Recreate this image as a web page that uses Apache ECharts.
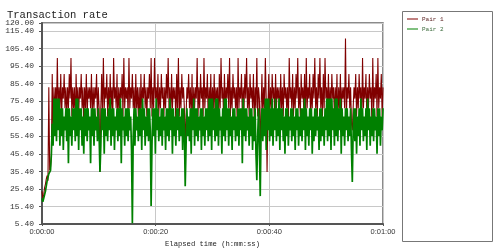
<!DOCTYPE html>
<html>
<head>
<meta charset="utf-8">
<script src="https://cdn.jsdelivr.net/npm/echarts@6/dist/echarts.min.js"></script>
<style>html,body{margin:0;padding:0;background:#fff}#c{width:500px;height:250px}</style>
</head>
<body>
<div id="c"></div>
<script>
const seriesNames = ['Pair 1', 'Pair 2'];
const sampleStep = 0.15; // seconds between samples
const xTicks = [0, 20, 40, 60];
const yTicks = [5.4, 15.4, 25.4, 35.4, 45.4, 55.4, 65.4, 75.4, 85.4, 95.4, 105.4, 115.4, 120];

const pair1 = [
  24, 20, 22, 26, 28, 31, 33, 30, 83.3, 36, 38, 45, 90.9, 55.6, 83.3, 66.7, 83.3, 71.4, 100, 66.7,
  83.3, 71.4, 90.9, 66.7, 83.3, 76.9, 90.9, 71.4, 83.3, 66.7, 83.3, 71.4, 90.9, 76.9, 100, 66.7, 83.3, 71.4, 83.3, 62.5,
  90.9, 71.4, 83.3, 66.7, 83.3, 76.9, 90.9, 71.4, 83.3, 62.5, 83.3, 71.4, 90.9, 66.7, 83.3, 76.9, 83.3, 71.4, 90.9, 66.7,
  83.3, 71.4, 83.3, 76.9, 90.9, 66.7, 83.3, 71.4, 35, 71.4, 90.9, 66.7, 100, 71.4, 83.3, 76.9, 90.9, 66.7, 83.3, 71.4,
  90.9, 71.4, 83.3, 66.7, 100, 76.9, 83.3, 71.4, 90.9, 62.5, 83.3, 71.4, 83.3, 76.9, 90.9, 66.7, 100, 71.4, 83.3, 76.9,
  83.3, 66.7, 100, 71.4, 83.3, 76.9, 90.9, 71.4, 83.3, 62.5, 90.9, 71.4, 83.3, 66.7, 83.3, 58.8, 90.9, 71.4, 83.3, 76.9,
  90.9, 71.4, 83.3, 66.7, 83.3, 76.9, 90.9, 71.4, 100, 66.7, 83.3, 71.4, 100, 76.9, 83.3, 71.4, 90.9, 66.7, 83.3, 71.4,
  90.9, 76.9, 83.3, 66.7, 83.3, 71.4, 90.9, 76.9, 100, 71.4, 83.3, 66.7, 90.9, 71.4, 83.3, 76.9, 83.3, 62.5, 90.9, 71.4,
  100, 66.7, 83.3, 71.4, 90.9, 76.9, 83.3, 71.4, 50, 66.7, 83.3, 76.9, 90.9, 71.4, 83.3, 66.7, 90.9, 62.5, 83.3, 71.4,
  83.3, 76.9, 100, 66.7, 83.3, 71.4, 90.9, 76.9, 83.3, 66.7, 100, 71.4, 83.3, 76.9, 90.9, 62.5, 83.3, 71.4, 90.9, 66.7,
  83.3, 71.4, 90.9, 66.7, 83.3, 76.9, 83.3, 62.5, 90.9, 71.4, 100, 76.9, 83.3, 66.7, 90.9, 71.4, 83.3, 76.9, 90.9, 71.4,
  100, 66.7, 83.3, 71.4, 90.9, 76.9, 83.3, 71.4, 83.3, 62.5, 100, 71.4, 83.3, 76.9, 90.9, 66.7, 83.3, 71.4, 90.9, 76.9,
  100, 71.4, 83.3, 66.7, 90.9, 76.9, 83.3, 71.4, 90.9, 62.5, 83.3, 71.4, 100, 66.7, 83.3, 76.9, 45, 71.4, 90.9, 66.7,
  83.3, 71.4, 100, 76.9, 35, 71.4, 90.9, 66.7, 83.3, 71.4, 90.9, 76.9, 83.3, 66.7, 90.9, 71.4, 83.3, 76.9, 83.3, 62.5,
  90.9, 71.4, 83.3, 66.7, 90.9, 76.9, 83.3, 71.4, 83.3, 62.5, 100, 76.9, 83.3, 71.4, 90.9, 66.7, 83.3, 71.4, 90.9, 76.9,
  100, 71.4, 83.3, 66.7, 90.9, 76.9, 83.3, 71.4, 90.9, 62.5, 100, 71.4, 83.3, 76.9, 90.9, 66.7, 83.3, 71.4, 90.9, 76.9,
  100, 71.4, 83.3, 66.7, 90.9, 76.9, 100, 71.4, 83.3, 66.7, 90.9, 71.4, 100, 76.9, 83.3, 71.4, 90.9, 66.7, 83.3, 71.4,
  90.9, 76.9, 83.3, 66.7, 83.3, 71.4, 90.9, 62.5, 83.3, 71.4, 90.9, 66.7, 83.3, 76.9, 83.3, 71.4, 111.1, 66.7, 83.3, 76.9,
  90.9, 71.4, 83.3, 62.5, 58.8, 71.4, 83.3, 76.9, 90.9, 66.7, 83.3, 71.4, 90.9, 76.9, 83.3, 62.5, 100, 71.4, 83.3, 76.9,
  90.9, 66.7, 83.3, 71.4, 90.9, 76.9, 83.3, 62.5, 100, 71.4, 83.3, 76.9, 90.9, 66.7, 100, 71.4, 83.3, 76.9, 90.9, 66.7,
  83.3
];

const pair2 = [
  20, 18, 17, 22, 24, 27, 30, 32, 34, 33, 36, 45, 62.5, 50, 76.9, 55.6, 76.9, 52.6, 76.9, 58.8,
  76.9, 50, 71.4, 55.6, 71.4, 47.6, 66.7, 58.8, 71.4, 52.6, 71.4, 40, 71.4, 55.6, 66.7, 50, 71.4, 58.8, 71.4, 52.6,
  76.9, 55.6, 76.9, 47.6, 71.4, 58.8, 71.4, 50, 66.7, 45.5, 71.4, 55.6, 71.4, 52.6, 71.4, 58.8, 66.7, 40, 71.4, 55.6,
  71.4, 50, 71.4, 58.8, 66.7, 52.6, 71.4, 55.6, 35, 50, 71.4, 58.8, 71.4, 45.5, 71.4, 55.6, 66.7, 52.6, 71.4, 58.8,
  76.9, 50, 71.4, 55.6, 71.4, 47.6, 66.7, 58.8, 71.4, 52.6, 71.4, 55.6, 76.9, 40, 71.4, 58.8, 66.7, 50, 71.4, 55.6,
  71.4, 52.6, 71.4, 58.8, 66.7, 47.6, 5.9, 55.6, 71.4, 50, 71.4, 58.8, 66.7, 52.6, 71.4, 55.6, 71.4, 47.6, 76.9, 58.8,
  71.4, 50, 66.7, 55.6, 71.4, 52.6, 71.4, 58.8, 15.6, 50, 71.4, 55.6, 71.4, 45.5, 76.9, 58.8, 71.4, 52.6, 66.7, 55.6,
  71.4, 50, 71.4, 58.8, 66.7, 47.6, 71.4, 55.6, 71.4, 52.6, 76.9, 58.8, 71.4, 45.5, 71.4, 55.6, 66.7, 50, 71.4, 58.8,
  71.4, 52.6, 66.7, 55.6, 71.4, 47.6, 71.4, 58.8, 27, 50, 71.4, 55.6, 66.7, 52.6, 71.4, 45.5, 71.4, 58.8, 76.9, 50,
  71.4, 55.6, 71.4, 52.6, 66.7, 58.8, 71.4, 47.6, 71.4, 55.6, 66.7, 50, 71.4, 58.8, 71.4, 52.6, 76.9, 55.6, 76.9, 47.6,
  76.9, 58.8, 71.4, 52.6, 76.9, 55.6, 76.9, 50, 71.4, 58.8, 66.7, 45.5, 71.4, 55.6, 76.9, 52.6, 76.9, 58.8, 71.4, 50,
  71.4, 55.6, 66.7, 47.6, 71.4, 58.8, 71.4, 52.6, 66.7, 55.6, 71.4, 50, 71.4, 58.8, 71.4, 40, 76.9, 55.6, 71.4, 52.6,
  71.4, 58.8, 66.7, 50, 71.4, 55.6, 71.4, 47.6, 66.7, 52.6, 71.4, 45.5, 30.3, 55.6, 71.4, 50, 21.3, 58.8, 71.4, 52.6,
  71.4, 55.6, 76.9, 47.6, 76.9, 58.8, 76.9, 52.6, 71.4, 55.6, 76.9, 50, 71.4, 58.8, 76.9, 52.6, 71.4, 55.6, 76.9, 47.6,
  71.4, 58.8, 71.4, 52.6, 66.7, 45.5, 71.4, 55.6, 71.4, 50, 66.7, 58.8, 71.4, 52.6, 71.4, 55.6, 66.7, 47.6, 71.4, 58.8,
  71.4, 50, 66.7, 55.6, 71.4, 52.6, 71.4, 58.8, 76.9, 47.6, 71.4, 55.6, 66.7, 50, 71.4, 58.8, 71.4, 45.5, 66.7, 52.6,
  71.4, 55.6, 71.4, 58.8, 66.7, 47.6, 71.4, 52.6, 71.4, 55.6, 66.7, 50, 71.4, 58.8, 76.9, 52.6, 76.9, 55.6, 76.9, 47.6,
  76.9, 58.8, 71.4, 50, 76.9, 55.6, 76.9, 52.6, 71.4, 58.8, 76.9, 45.5, 71.4, 55.6, 66.7, 50, 71.4, 58.8, 71.4, 52.6,
  66.7, 55.6, 71.4, 47.6, 29.3, 58.8, 71.4, 52.6, 71.4, 45.5, 66.7, 55.6, 71.4, 50, 76.9, 58.8, 71.4, 52.6, 66.7, 55.6,
  71.4, 47.6, 76.9, 58.8, 71.4, 50, 66.7, 55.6, 71.4, 52.6, 71.4, 58.8, 66.7, 45.5, 71.4, 55.6, 71.4, 50, 66.7, 58.8,
  71.4
];

function toPairs(arr) { return arr.map((v, i) => [+(i * sampleStep).toFixed(2), v]); }
function fmtTime(s) {
  const h = Math.floor(s / 3600), m = Math.floor((s % 3600) / 60), sec = Math.round(s % 60);
  return h + ':' + String(m).padStart(2, '0') + ':' + String(sec).padStart(2, '0');
}

const chart = echarts.init(document.getElementById('c'), null, { renderer: 'canvas' });
const mono = 'Liberation Mono';
chart.setOption({
  animation: false,
  backgroundColor: '#fff',
  title: {
    text: 'Transaction rate', left: 2, top: 5,
    textStyle: { fontFamily: mono, fontSize: 10.5, fontWeight: 'normal', color: '#222' }
  },
  legend: {
    orient: 'vertical', left: 402, top: 11, icon: 'rect',
    itemWidth: 11, itemHeight: 1, itemGap: 4,
    textStyle: { fontFamily: mono, fontSize: 6, padding: [0, 0, 0, -1] },
    data: [
      { name: seriesNames[0], textStyle: { color: '#5a2020' } },
      { name: seriesNames[1], textStyle: { color: '#3a6a3a' } }
    ]
  },
  graphic: [{
    type: 'rect', left: 400, top: 9,
    shape: { width: 90, height: 230 },
    style: { fill: 'none', stroke: '#777', lineWidth: 1 }
  }],
  grid: {
    left: 42, right: 117, top: 23, bottom: 26,
    containLabel: false, outerBoundsMode: 'none',
    show: true, borderColor: '#666', borderWidth: 1.5
  },
  xAxis: {
    type: 'value', min: 0, max: 60, interval: 20,
    name: 'Elapsed time (h:mm:ss)', nameLocation: 'middle', nameGap: 16,
    nameTextStyle: { fontFamily: mono, fontSize: 7.2, color: '#222' },
    axisLine: { show: true, lineStyle: { color: '#555', width: 2 } },
    axisTick: { show: true, length: 2, lineStyle: { color: '#555' } },
    axisLabel: { formatter: fmtTime, fontFamily: 'Liberation Sans', fontSize: 7.5, color: '#333', margin: 4, customValues: xTicks },
    splitLine: { show: true, lineStyle: { color: '#c8c8c8', width: 1 } }
  },
  yAxis: {
    type: 'value', min: 5.4, max: 120, interval: 10,
    name: '#/Second', nameLocation: 'middle', nameGap: 33,
    nameTextStyle: { fontFamily: mono, fontSize: 6, color: '#222' },
    axisLine: { show: true, lineStyle: { color: '#555', width: 2 } },
    axisTick: { show: true, length: 3, lineStyle: { color: '#555' }, customValues: yTicks },
    axisLabel: { formatter: v => v.toFixed(2), fontFamily: mono, fontSize: 8, color: '#333', margin: 8, customValues: yTicks },
    splitLine: { show: true, lineStyle: { color: '#c8c8c8', width: 1 } }
  },
  series: [
    { name: seriesNames[0], type: 'line', data: toPairs(pair1), symbol: 'none', color: '#800000', lineStyle: { width: 1.1, color: '#800000' } },
    { name: seriesNames[1], type: 'line', data: toPairs(pair2), symbol: 'none', color: '#008000', lineStyle: { width: 1.7, color: '#008000' } }
  ]
});
</script>
</body>
</html>
